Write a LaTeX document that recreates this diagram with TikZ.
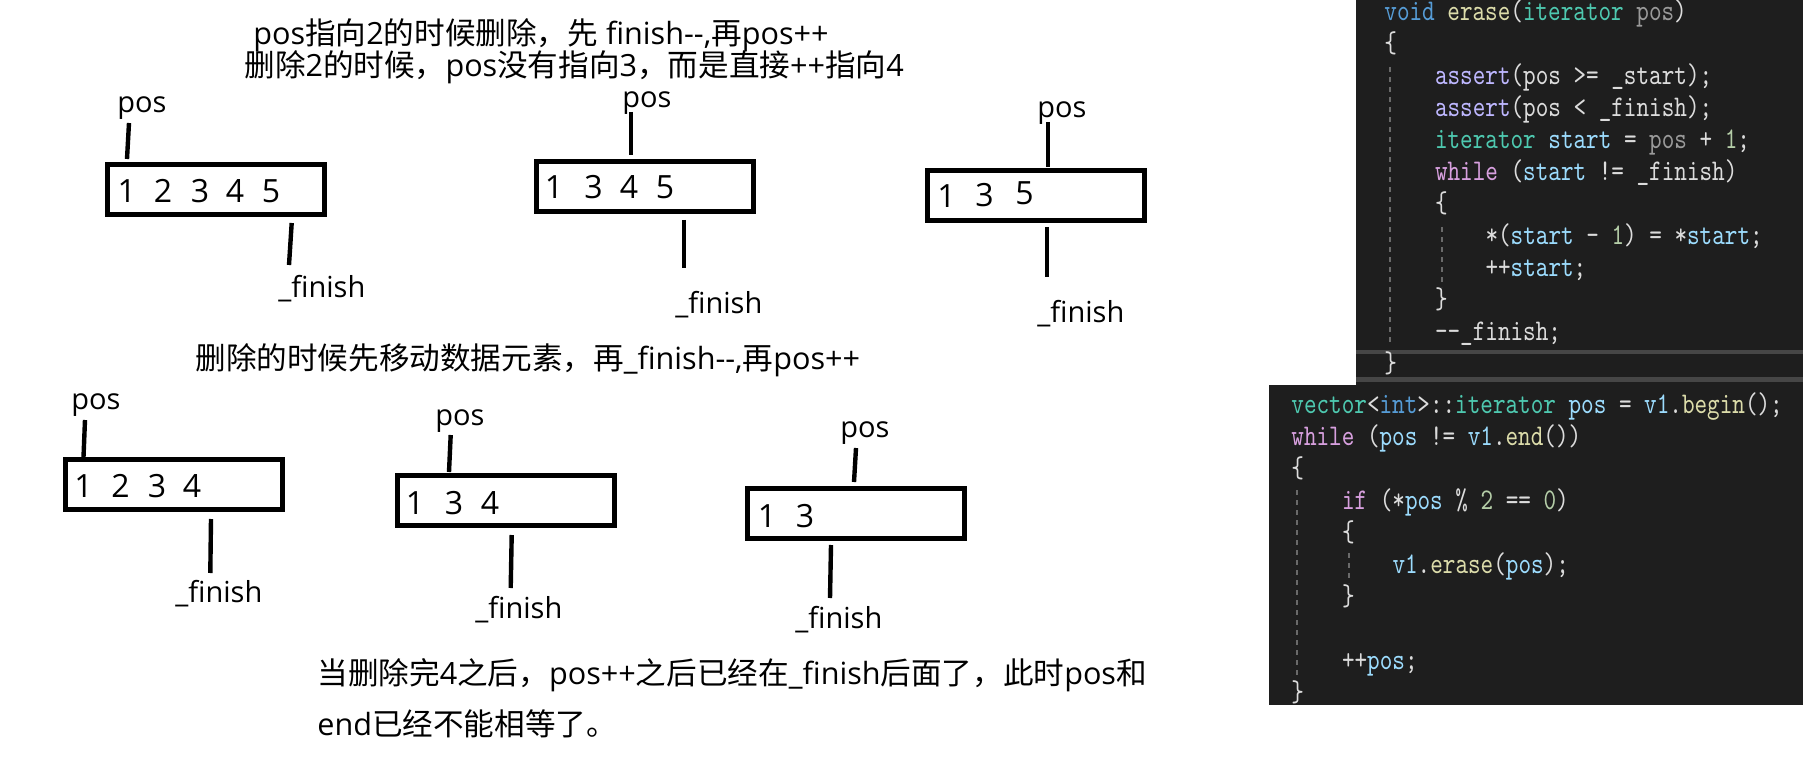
\documentclass[tikz,border=0pt]{standalone}
\usepackage{fontspec}
\setmainfont{Open Sans}
\newfontfamily\cjk{Noto Sans CJK SC}
\newfontfamily\codefont[FakeStretch=0.80]{lmmono10-regular.otf}
\definecolor{codebg}{HTML}{1E1E1E}
\definecolor{kw}{HTML}{569CD6}
\definecolor{fn}{HTML}{DCDCAA}
\definecolor{ty}{HTML}{4EC9B0}
\definecolor{par}{HTML}{9A9A9A}
\definecolor{dft}{HTML}{DCDCDC}
\definecolor{var}{HTML}{9CDCFE}
\definecolor{mac}{HTML}{BEB7FF}
\definecolor{ctl}{HTML}{D8A0DF}
\definecolor{num}{HTML}{B5CEA8}
\definecolor{bandcol}{HTML}{464646}
\definecolor{guidecol}{HTML}{6A6A6A}
\newcommand\C[2]{\textcolor{#1}{#2}}
\tikzset{
  box/.style={draw, line width=2.5pt, minimum width=108.5pt, minimum height=25pt, inner sep=0pt},
  ptr/.style={line width=2.2pt},
  lab/.style={inner sep=0pt, anchor=base west, font=\fontsize{14.5}{17}\selectfont},
  txt/.style={inner sep=0pt, anchor=base west, font=\fontsize{15.3}{18}\selectfont},
  dig/.style={inner sep=0pt, anchor=base, font=\fontsize{16}{19}\selectfont},
  code/.style={inner sep=0pt, anchor=base west, font=\codefont\fontsize{15}{18}\selectfont, text=dft},
  iguide/.style={draw=guidecol, line width=1pt, dash pattern=on 2.5pt off 2.5pt}
}
\begin{document}
\begin{tikzpicture}[x=0.5pt,y=-0.5pt]
\useasboundingbox (0,0) rectangle (1803,759);
\fill[white] (0,0) rectangle (1803,759);

% ---------- titles ----------
\node[txt] (t1) at (253,45) {pos{\cjk 指向}2{\cjk 的时候删除，先} finish-{}-,{\cjk 再}pos++};
\node[txt] (t2) at (244,77) {{\cjk 删除}2{\cjk 的时候，}pos{\cjk 没有指向}3{\cjk ，而是直接}++{\cjk 指向}4};
\node[txt] (t3) at (195,369) {{\cjk 删除的时候先移动数据元素，再}\_finish-{}-,{\cjk 再}pos++};
\node[txt] (t4) at (317,684) {{\cjk 当删除完}4{\cjk 之后，}pos++{\cjk 之后已经在}\_finish{\cjk 后面了，此时}pos{\cjk 和}};
\node[txt] (t5) at (317,735) {end{\cjk 已经不能相等了。}};

% ---------- boxes ----------
\node[box] (b1) at (216,189.5) {};
\node[box] (b2) at (644.5,186.5) {};
\node[box] (b3) at (1035.5,195.5) {};
\node[box] (b4) at (173.5,484.5) {};
\node[box] (b5) at (505.5,500.5) {};
\node[box] (b6) at (856,513.5) {};

% ---------- digits ----------
\node[dig] (d11) at (126.7,202.7) {1};
\node[dig] (d12) at (163,202.7) {2};
\node[dig] (d13) at (200,202.7) {3};
\node[dig] (d14) at (235,202.7) {4};
\node[dig] (d15) at (271,202.7) {5};
\node[dig] (d21) at (554,198.3) {1};
\node[dig] (d22) at (593.5,198.3) {3};
\node[dig] (d23) at (629,198.3) {4};
\node[dig] (d24) at (665,198.3) {5};
\node[dig] (d31) at (946.5,208) {1};
\node[dig] (d32) at (984.5,206.7) {3};
\node[dig] (d33) at (1024.5,204.3) {5};
\node[dig] (d41) at (83.5,497.3) {1};
\node[dig] (d42) at (120.5,497.3) {2};
\node[dig] (d43) at (157,497.3) {3};
\node[dig] (d44) at (192,497.3) {4};
\node[dig] (d51) at (415,514) {1};
\node[dig] (d52) at (454,514) {3};
\node[dig] (d53) at (490,514) {4};
\node[dig] (d61) at (767,527.3) {1};
\node[dig] (d62) at (805,527.3) {3};

% ---------- labels ----------
\node[lab] (pos1) at (117,113) {pos};
\node[lab] (pos2) at (622,108) {pos};
\node[lab] (pos3) at (1037,118) {pos};
\node[lab] (pos4) at (71,409) {pos};
\node[lab] (pos5) at (435,425) {pos};
\node[lab] (pos6) at (840,437) {pos};
\node[lab] (fin1) at (278,298) {\_finish};
\node[lab] (fin2) at (675,313) {\_finish};
\node[lab] (fin3) at (1037,322) {\_finish};
\node[lab] (fin4) at (175,602) {\_finish};
\node[lab] (fin5) at (475,618) {\_finish};
\node[lab] (fin6) at (795,628) {\_finish};

% ---------- pointer lines ----------
\coordinate (p1a) at (129,123);   \coordinate (p1b) at (127,159);
\coordinate (p2a) at (631,112);   \coordinate (p2b) at (631,155);
\coordinate (p3a) at (1048,122);  \coordinate (p3b) at (1048,167);
\coordinate (p4a) at (85,420);    \coordinate (p4b) at (83.5,457);
\coordinate (p5a) at (450.7,435); \coordinate (p5b) at (449,472);
\coordinate (p6a) at (856,448);   \coordinate (p6b) at (854,482);
\coordinate (f1a) at (291.7,223); \coordinate (f1b) at (289,265);
\coordinate (f2a) at (684,220);   \coordinate (f2b) at (684,268);
\coordinate (f3a) at (1047,227);  \coordinate (f3b) at (1047,277);
\coordinate (f4a) at (211,519);   \coordinate (f4b) at (210.3,573);
\coordinate (f5a) at (511.7,535); \coordinate (f5b) at (510.7,588);
\coordinate (f6a) at (831,545);   \coordinate (f6b) at (830,598);
\foreach \a/\b in {p1a/p1b,p2a/p2b,p3a/p3b,p4a/p4b,p5a/p5b,p6a/p6b,f1a/f1b,f2a/f2b,f3a/f3b,f4a/f4b,f5a/f5b,f6a/f6b}
  \draw[ptr] (\a) -- (\b);

% ---------- code panel 1 ----------
\fill[codebg] (1356,0) rectangle (1803,385);
\fill[bandcol] (1356,350) rectangle (1803,354);
\fill[bandcol] (1356,377) rectangle (1803,382);
\draw[iguide] (1390,67) -- (1390,343);
\draw[iguide] (1442,227) -- (1442,287);
\node[code] (a0) at (1384,20.7) {\C{kw}{void} \C{fn}{erase}(\C{ty}{iterator} \C{par}{pos})};
\node[code] (a1) at (1384,52.7) {\{};
\node[code] (a2) at (1434.6,84.7) {\C{mac}{assert}(pos >= \_start);};
\node[code] (a3) at (1434.6,116.7) {\C{mac}{assert}(pos < \_finish);};
\node[code] (a4) at (1434.6,148.7) {\C{ty}{iterator} \C{var}{start} = \C{par}{pos} + \C{num}{1};};
\node[code] (a5) at (1434.6,180.7) {\C{ctl}{while} (\C{var}{start} != \_finish)};
\node[code] (a6) at (1434.6,212.7) {\{};
\node[code] (a7) at (1485.1,244.7) {*(\C{var}{start} - \C{num}{1}) = *\C{var}{start};};
\node[code] (a8) at (1485.1,276.7) {++\C{var}{start};};
\node[code] (a9) at (1434.6,308.7) {\}};
\node[code] (a10) at (1434.6,340.7) {-{}-\_finish;};
\node[code] (a11) at (1384,372.7) {\}};

% ---------- code panel 2 ----------
\fill[codebg] (1269,385) rectangle (1803,705);
\begin{scope}
\clip (1269,385) rectangle (1803,705);
\draw[iguide] (1297,490) -- (1297,677);
\draw[iguide] (1349,553) -- (1349,583);
\node[code] (e0) at (1291,413.3) {\C{ty}{vector}<\C{kw}{int}>::\C{ty}{iterator} \C{var}{pos} = \C{var}{v1}.\C{fn}{begin}();};
\node[code] (e1) at (1291,445.3) {\C{ctl}{while} (\C{var}{pos} != \C{var}{v1}.\C{fn}{end}())};
\node[code] (e2) at (1291,477.3) {\{};
\node[code] (e3) at (1341.6,509.3) {\C{ctl}{if} (*\C{var}{pos} \% \C{num}{2} == \C{num}{0})};
\node[code] (e4) at (1341.6,541.3) {\{};
\node[code] (e5) at (1392.1,573.3) {\C{var}{v1}.\C{fn}{erase}(\C{var}{pos});};
\node[code] (e6) at (1341.6,605.3) {\}};
\node[code] (e8) at (1341.6,669.3) {++\C{var}{pos};};
\node[code] (e9) at (1291,701.3) {\}};
\end{scope}
\end{tikzpicture}
\end{document}
